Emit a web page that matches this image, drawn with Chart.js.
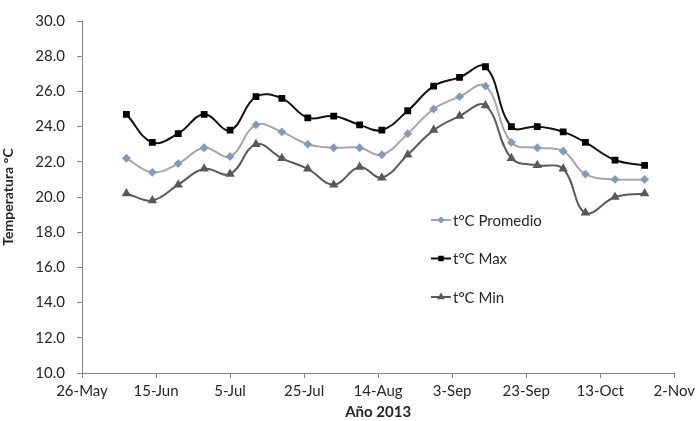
<!DOCTYPE html>
<html>
<head>
<meta charset="utf-8">
<title>Temperatura 2013</title>
<script src="https://cdn.jsdelivr.net/npm/chart.js@4.4.0/dist/chart.umd.min.js"></script>
<style>
  body { margin: 0; background: #fff; }
  canvas { display: block; }
</style>
</head>
<body>
<canvas id="tempChart" width="699" height="421"></canvas>
<script>
// sampling dates (2013)
const dates = ['2013-06-07', '2013-06-14', '2013-06-21', '2013-06-28', '2013-07-05', '2013-07-12', '2013-07-19',
  '2013-07-26', '2013-08-02', '2013-08-09', '2013-08-15', '2013-08-22', '2013-08-29', '2013-09-05',
  '2013-09-12', '2013-09-19', '2013-09-26', '2013-10-03', '2013-10-09', '2013-10-17', '2013-10-25'];

const tPromedio = [22.2, 21.4, 21.9, 22.8, 22.3, 24.1, 23.7, 23.0, 22.8, 22.8, 22.4, 23.6, 25.0, 25.7, 26.3, 23.1, 22.8, 22.6, 21.3, 21.0, 21.0];
const tMax = [24.7, 23.1, 23.6, 24.7, 23.8, 25.7, 25.6, 24.5, 24.6, 24.1, 23.8, 24.9, 26.3, 26.8, 27.4, 24.0, 24.0, 23.7, 23.1, 22.1, 21.8];
const tMin = [20.2, 19.8, 20.7, 21.6, 21.3, 23.0, 22.2, 21.6, 20.7, 21.7, 21.1, 22.4, 23.8, 24.6, 25.2, 22.2, 21.8, 21.6, 19.1, 20.0, 20.2];

const seriesNames = ['t°C Promedio', 't°C Max', 't°C Min'];

// x axis runs 26-May .. 2-Nov, ticks every 20 days
const axisStart = '2013-05-26';
const axisDays = 160;
const monthNames = ['Jan', 'Feb', 'Mar', 'Apr', 'May', 'Jun', 'Jul', 'Aug', 'Sep', 'Oct', 'Nov', 'Dec'];

const base = Date.parse(axisStart);
const dayOf = d => (Date.parse(d) - base) / 864e5;
const toPoints = vals => vals.map((v, i) => ({ x: dayOf(dates[i]), y: v }));

const axisColor = '#868686';
const textColor = '#262626';
const fontFamily = 'Lato, "Liberation Sans", sans-serif';

// legend drawn inside the plot area, like the original
const insideLegend = {
  id: 'insideLegend',
  afterDraw(chart) {
    const ctx = chart.ctx;
    const x0 = 431, y0 = 220, rowGap = 38.5;
    chart.data.datasets.forEach((ds, i) => {
      const y = y0 + i * rowGap;
      ctx.save();
      ctx.strokeStyle = ds.borderColor;
      ctx.lineWidth = ds.borderWidth;
      ctx.beginPath();
      ctx.moveTo(x0, y);
      ctx.lineTo(x0 + 20, y);
      ctx.stroke();
      ctx.fillStyle = ds.pointBackgroundColor;
      ctx.strokeStyle = ds.pointBorderColor;
      Chart.helpers.drawPoint(ctx, {
        pointStyle: ds.pointStyle,
        radius: ds.pointRadius * 0.7,
        borderWidth: 1
      }, x0 + 10, y);
      ctx.fillStyle = textColor;
      ctx.font = '15px ' + fontFamily;
      ctx.textBaseline = 'middle';
      ctx.fillText(ds.label, x0 + 22, y + 1);
      ctx.restore();
    });
  }
};

const ctx = document.getElementById('tempChart').getContext('2d');
new Chart(ctx, {
  type: 'line',
  data: {
    datasets: [
      {
        label: seriesNames[0],
        data: toPoints(tPromedio),
        borderColor: '#A6A6A6',
        borderWidth: 2,
        pointStyle: 'rectRot',
        pointRadius: 3,
        pointBackgroundColor: '#7F9BC4',
        pointBorderColor: '#7F9BC4',
        tension: 0.4
      },
      {
        label: seriesNames[1],
        data: toPoints(tMax),
        borderColor: '#111111',
        borderWidth: 2,
        pointStyle: 'rect',
        pointRadius: 3.4,
        pointBackgroundColor: '#000000',
        pointBorderColor: '#000000',
        tension: 0.4
      },
      {
        label: seriesNames[2],
        data: toPoints(tMin),
        borderColor: '#5A5A5A',
        borderWidth: 2,
        pointStyle: 'triangle',
        pointRadius: 3.5,
        pointBackgroundColor: '#595959',
        pointBorderColor: '#595959',
        tension: 0.4
      }
    ]
  },
  options: {
    responsive: false,
    animation: false,
    layout: { padding: { left: 0, top: 18, right: 24, bottom: 0 } },
    plugins: {
      legend: { display: false },
      tooltip: { enabled: false }
    },
    scales: {
      x: {
        type: 'linear',
        min: 0,
        max: axisDays,
        afterFit: s => { s.height = 48; },
        grid: { drawOnChartArea: false, color: axisColor, tickLength: 5 },
        border: { color: axisColor, width: 1 },
        ticks: {
          stepSize: 20,
          padding: 4,
          color: textColor,
          font: { family: fontFamily, size: 15 },
          maxRotation: 0,
          callback: v => {
            const d = new Date(base + v * 864e5);
            return d.getUTCDate() + '-' + monthNames[d.getUTCMonth()];
          }
        },
        title: {
          display: true,
          text: 'Año 2013',
          color: textColor,
          font: { family: fontFamily, size: 15, weight: 'bold' },
          padding: { top: 0, bottom: 0 }
        }
      },
      y: {
        min: 10,
        max: 30,
        afterFit: s => { s.width = 82; },
        grid: { drawOnChartArea: false, color: axisColor, tickLength: 5 },
        border: { color: axisColor, width: 1 },
        ticks: {
          stepSize: 2,
          padding: 12,
          color: textColor,
          font: { family: fontFamily, size: 15 },
          callback: v => v.toFixed(1)
        },
        title: {
          display: true,
          text: 'Temperatura °C',
          color: textColor,
          font: { family: fontFamily, size: 14, weight: 'bold' },
          padding: { top: 0, bottom: 0 }
        }
      }
    }
  },
  plugins: [insideLegend]
});
</script>
</body>
</html>
